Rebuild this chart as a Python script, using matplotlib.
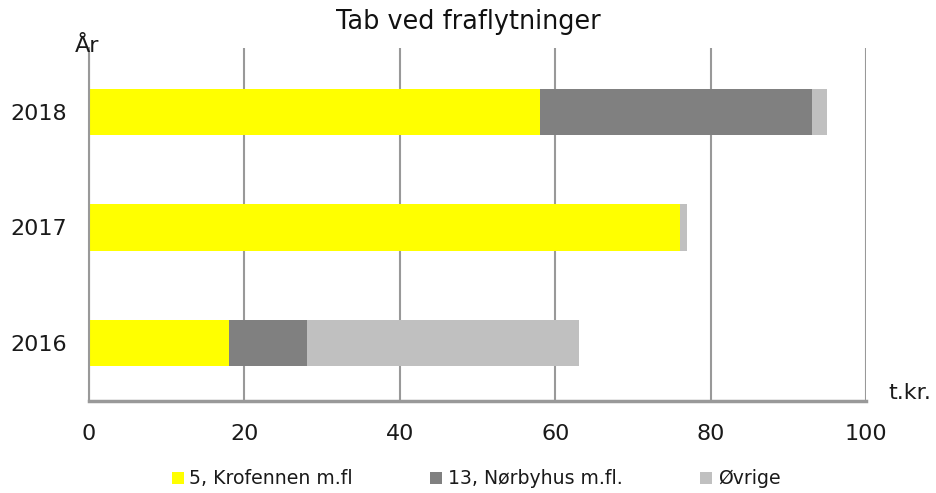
import matplotlib.pyplot as plt

years = ['2016', '2017', '2018']
krofennen = [18, 76, 58]
norbyhus = [10, 0, 35]
ovrige = [35, 1, 2]
labels = ['5, Krofennen m.fl', '13, Nørbyhus m.fl.', 'Øvrige']
colors = ['#ffff00', '#808080', '#c0c0c0']

plt.rcParams['font.family'] = ['DejaVu Sans']

fig = plt.figure(figsize=(9.36, 4.93), dpi=100)
ax = fig.add_axes([89 / 936, 1 - 401 / 493, (866 - 89) / 936, (401 - 48) / 493])

pos = range(len(years))
left = [0] * len(years)
for vals, lab, col in zip([krofennen, norbyhus, ovrige], labels, colors):
    ax.barh(pos, vals, left=left, height=0.4, color=col, label=lab, zorder=2)
    left = [a + b for a, b in zip(left, vals)]

ax.set_xlim(0, 100)
ax.set_ylim(-0.5, 2.55)
ax.set_xticks(range(0, 101, 20))
ax.set_yticks(list(pos))
ax.set_yticklabels(years)
ax.xaxis.grid(True, color='#999999', linewidth=1.5, zorder=0)
ax.tick_params(axis='both', length=0, labelsize=16, colors='#1a1a1a')
ax.tick_params(axis='x', pad=16.5)
ax.tick_params(axis='y', pad=15.5)
for s in ['top', 'right']:
    ax.spines[s].set_visible(False)
ax.spines['left'].set_color('#999999')
ax.spines['left'].set_linewidth(1.5)
ax.spines['bottom'].set_color('#999999')
ax.spines['bottom'].set_linewidth(2.5)

fig.text(0.5, 1 - 22 / 493, 'Tab ved fraflytninger', ha='center', va='center',
         fontsize=18.4, color='#111111')
fig.text(75 / 936, 1 - 46 / 493, 'År', ha='left', va='center', fontsize=16, color='#1a1a1a')
fig.text(888 / 936, 1 - 393 / 493, 't.kr.', ha='left', va='center', fontsize=16, color='#1a1a1a')

leg = fig.legend(loc='center', bbox_to_anchor=(0.5 + 8 / 936, 1 - 479 / 493), ncol=3,
                 frameon=False, fontsize=13.6, handlelength=0.63, handleheight=0.63,
                 handletextpad=0.3, columnspacing=4.1)
for t in leg.get_texts():
    t.set_color('#1a1a1a')

fig.savefig('out.png', dpi=100)
